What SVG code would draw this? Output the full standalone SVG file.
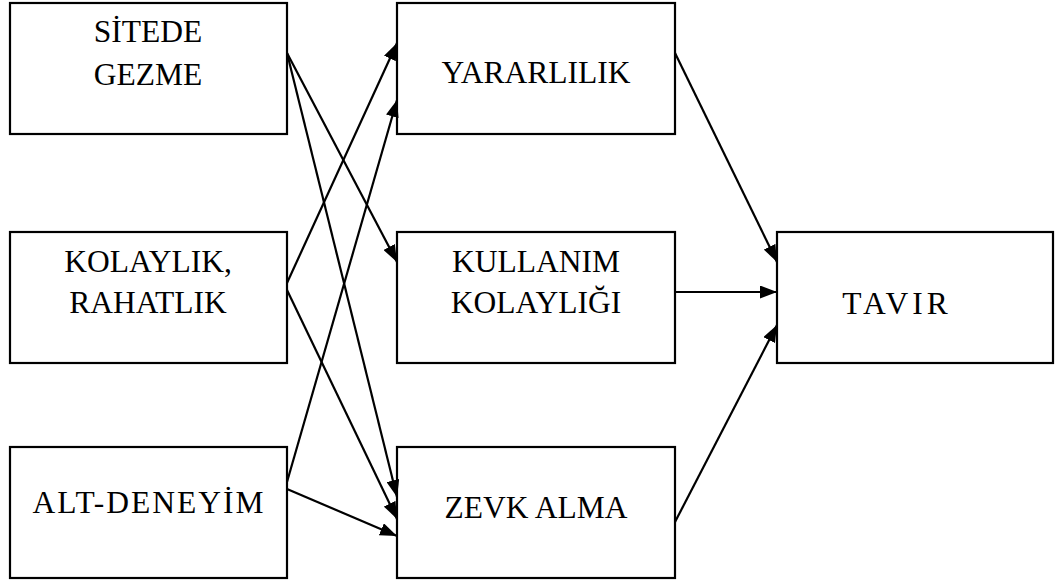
<svg xmlns="http://www.w3.org/2000/svg" width="1055" height="583" viewBox="0 0 1055 583">
  <style>
    .box { fill: #ffffff; stroke: #000000; stroke-width: 2.2; }
    .lbl { font-family: "Liberation Serif", "Times New Roman", serif; font-size: 31.5px; fill: #000000; text-anchor: middle; }
    .edge { fill: none; stroke: #000000; stroke-width: 2.2; marker-end: url(#arrow); }
  </style>
  <defs>
    <marker id="arrow" markerUnits="userSpaceOnUse" markerWidth="17" markerHeight="13" refX="17" refY="6.5" orient="auto">
      <path d="M0,0 L17,6.5 L0,13 Z" fill="#000000"/>
    </marker>
  </defs>

  <rect width="1055" height="583" fill="#ffffff"/>

  <g id="sitede-gezme">
    <rect class="box" x="10" y="3" width="277" height="131"/>
    <text class="lbl" x="148" y="42">SİTEDE</text>
    <text class="lbl" x="148" y="85">GEZME</text>
  </g>

  <g id="kolaylik-rahatlik">
    <rect class="box" x="10" y="232" width="277" height="131"/>
    <text class="lbl" x="148" y="272">KOLAYLIK,</text>
    <text class="lbl" x="148" y="313">RAHATLIK</text>
  </g>

  <g id="alt-deneyim">
    <rect class="box" x="10" y="447" width="277" height="131"/>
    <text class="lbl" x="149" y="513" letter-spacing="2">ALT-DENEYİM</text>
  </g>

  <g id="yararlilik">
    <rect class="box" x="397" y="3" width="278" height="131"/>
    <text class="lbl" x="536" y="83">YARARLILIK</text>
  </g>

  <g id="kullanim-kolayligi">
    <rect class="box" x="397" y="232" width="278" height="131"/>
    <text class="lbl" x="536" y="272">KULLANIM</text>
    <text class="lbl" x="536" y="313">KOLAYLIĞI</text>
  </g>

  <g id="zevk-alma">
    <rect class="box" x="397" y="447" width="278" height="131"/>
    <text class="lbl" x="536" y="518">ZEVK ALMA</text>
  </g>

  <g id="tavir">
    <rect class="box" x="777" y="232" width="276" height="131"/>
    <text class="lbl" x="897" y="314" letter-spacing="4">TAVIR</text>
  </g>

  <g id="connectors">
    <line class="edge" x1="287" y1="53" x2="397" y2="262"/>
    <line class="edge" x1="287" y1="53" x2="397" y2="497"/>
    <line class="edge" x1="287" y1="283" x2="397" y2="43"/>
    <line class="edge" x1="287" y1="290" x2="397" y2="519"/>
    <line class="edge" x1="287" y1="482" x2="397" y2="100"/>
    <line class="edge" x1="287" y1="489" x2="397" y2="536"/>
    <line class="edge" x1="675" y1="53" x2="777" y2="262"/>
    <line class="edge" x1="675" y1="292" x2="777" y2="292"/>
    <line class="edge" x1="675" y1="522" x2="777" y2="325"/>
  </g>
</svg>
